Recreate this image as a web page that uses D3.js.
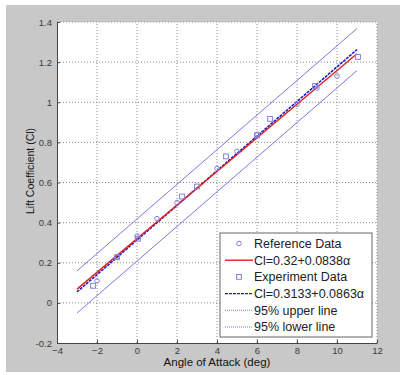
<!DOCTYPE html>
<html lang="en">
<head>
<meta charset="UTF-8">
<title>Lift coefficient</title>
<script src="https://d3js.org/d3.v7.min.js"></script>
<style>
  body { margin: 0; background: #fff; }
  text { font-family: "Liberation Sans", Arial, sans-serif; }
</style>
</head>
<body>
<script>
    // data
    var refAlpha = [-2, -1, 0, 1, 2, 4, 5, 6, 8, 9, 10];
    var refCl    = [0.11, 0.23, 0.333, 0.42, 0.50, 0.67, 0.755, 0.84, 0.99, 1.071, 1.131];
    var expAlpha = [-2.2, -1, 0.05, 2.25, 3, 4.45, 6, 6.65, 8.9, 11.05];
    var expCl    = [0.085, 0.227, 0.32, 0.53, 0.58, 0.73, 0.835, 0.917, 1.081, 1.226];

    var fitRef = {a: 0.32, b: 0.0838};
    var fitExp = {a: 0.3133, b: 0.0863};
    var band = 0.105;
    var fitRange = [-3, 11];

    var xTicks = [-4, -2, 0, 2, 4, 6, 8, 10, 12];
    var yTicks = [-0.2, 0, 0.2, 0.4, 0.6, 0.8, 1, 1.2, 1.4];
    var yTickLabels = ["-0.2", "0", "0.2", "0.4", "0.6", "0.8", "1", "1.2", "1.4"];

    var legendItems = ["Reference Data", "Cl=0.32+0.0838\u03b1", "Experiment Data",
        "Cl=0.3133+0.0863\u03b1", "95% upper line", "95% lower line"];

    var width = 402, height = 375;
    var markColor = "#8282da";
    var bandColor = "#7a78e4";

    var svg = d3.select("body").append("svg")
        .attr("width", width)
        .attr("height", height);

    svg.append("rect")
        .attr("x", 6).attr("y", 5)
        .attr("width", 394).attr("height", 367)
        .attr("fill", "#c8c8c8");

    var x = d3.scaleLinear().domain([-4, 12]).range([57, 377]);
    var y = d3.scaleLinear().domain([-0.2, 1.4]).range([343, 22]);

    svg.append("rect")
        .attr("x", x(-4)).attr("y", y(1.4))
        .attr("width", x(12) - x(-4)).attr("height", y(-0.2) - y(1.4))
        .attr("fill", "#fff");

    // dotted grid
    var grid = svg.append("g");
    grid.selectAll(".gx").data(xTicks.slice(1)).enter().append("line")
        .attr("x1", function (d) { return x(d); })
        .attr("x2", function (d) { return x(d); })
        .attr("y1", y(-0.2)).attr("y2", y(1.4))
        .attr("stroke", "#8a8a8a").attr("stroke-dasharray", "1,2");
    grid.selectAll(".gy").data(yTicks.slice(1)).enter().append("line")
        .attr("y1", function (d) { return y(d); })
        .attr("y2", function (d) { return y(d); })
        .attr("x1", x(-4)).attr("x2", x(12))
        .attr("stroke", "#8a8a8a").attr("stroke-dasharray", "1,2");

    // axes, ticks pointing inward
    var xAxis = d3.axisBottom(x).tickValues(xTicks).tickSizeInner(-3).tickSizeOuter(0)
        .tickPadding(5).tickFormat(d3.format("d"));
    var yAxis = d3.axisLeft(y).tickValues(yTicks).tickSizeInner(-3).tickSizeOuter(0)
        .tickPadding(5).tickFormat(function (d, i) { return yTickLabels[i]; });

    var gx = svg.append("g").attr("transform", "translate(0," + y(-0.2) + ")").call(xAxis);
    var gy = svg.append("g").attr("transform", "translate(" + x(-4) + ",0)").call(yAxis);
    [gx, gy].forEach(function (g) {
        g.select(".domain").attr("stroke", "#444");
        g.selectAll(".tick line").attr("stroke", "#444");
        g.selectAll("text").attr("font-size", "9.5px").attr("fill", "#3a3a3a")
            .style("font-family", "'Liberation Sans', Arial, sans-serif");
    });
    gx.selectAll("text").attr("dy", "0.6em");

    // fit lines
    function lineOf(fit, off) {
        return fitRange.map(function (a) { return [x(a), y(fit.a + fit.b * a + off)]; });
    }
    var path = d3.line();
    var plot = svg.append("g");
    plot.append("path").attr("d", path(lineOf(fitExp, band)))
        .attr("fill", "none").attr("stroke", bandColor).attr("stroke-width", 1);
    plot.append("path").attr("d", path(lineOf(fitExp, -band)))
        .attr("fill", "none").attr("stroke", bandColor).attr("stroke-width", 1);
    plot.append("path").attr("d", path(lineOf(fitExp, 0)))
        .attr("fill", "none").attr("stroke", "#1c1cc8").attr("stroke-width", 1.6)
        .attr("stroke-dasharray", "3,1");
    plot.append("path").attr("d", path(lineOf(fitRef, 0)))
        .attr("fill", "none").attr("stroke", "#e02222").attr("stroke-width", 1.4);

    // markers
    plot.selectAll(".ref").data(refAlpha).enter().append("circle")
        .attr("cx", function (d) { return x(d); })
        .attr("cy", function (d, i) { return y(refCl[i]); })
        .attr("r", 2.3)
        .attr("fill", "none").attr("stroke", markColor).attr("stroke-width", 1);
    plot.selectAll(".exp").data(expAlpha).enter().append("rect")
        .attr("x", function (d) { return x(d) - 2.4; })
        .attr("y", function (d, i) { return y(expCl[i]) - 2.4; })
        .attr("width", 4.8).attr("height", 4.8)
        .attr("fill", "none").attr("stroke", markColor).attr("stroke-width", 1);

    // axis titles
    svg.append("text")
        .attr("x", (x(-4) + x(12)) / 2).attr("y", 366)
        .attr("text-anchor", "middle").attr("font-size", "11.5px").attr("fill", "#111")
        .text("Angle of Attack (deg)");
    svg.append("text")
        .attr("transform", "translate(34,171) rotate(-90)")
        .attr("text-anchor", "middle").attr("font-size", "10.5px").attr("fill", "#111")
        .text("Lift Coefficient  (Cl)");

    // legend
    var lg = svg.append("g");
    lg.append("rect")
        .attr("x", 220).attr("y", 233).attr("width", 152).attr("height", 104)
        .attr("fill", "#fff").attr("stroke", "#666").attr("stroke-width", 1);
    var rowY = d3.scalePoint().domain(d3.range(legendItems.length)).range([243.5, 327]);
    legendItems.forEach(function (t, i) {
        var cy = rowY(i);
        lg.append("text")
            .attr("x", 254).attr("y", cy).attr("dy", "0.35em")
            .attr("font-size", "12.5px").attr("fill", "#222")
            .text(t);
        if (i === 0) {
            lg.append("circle").attr("cx", 239).attr("cy", cy).attr("r", 2.3)
                .attr("fill", "none").attr("stroke", markColor);
        } else if (i === 2) {
            lg.append("rect").attr("x", 236.6).attr("y", cy - 2.4).attr("width", 4.8).attr("height", 4.8)
                .attr("fill", "none").attr("stroke", markColor);
        } else {
            var ln = lg.append("line").attr("x1", 225).attr("x2", 253)
                .attr("y1", cy).attr("y2", cy);
            if (i === 1) ln.attr("stroke", "#e02222").attr("stroke-width", 1.4);
            if (i === 3) ln.attr("stroke", "#1c1cc8").attr("stroke-width", 1.4).attr("stroke-dasharray", "3,1");
            if (i >= 4) ln.attr("stroke", bandColor).attr("stroke-width", 1).attr("stroke-dasharray", "1,1");
        }
    });
</script>
</body>
</html>
